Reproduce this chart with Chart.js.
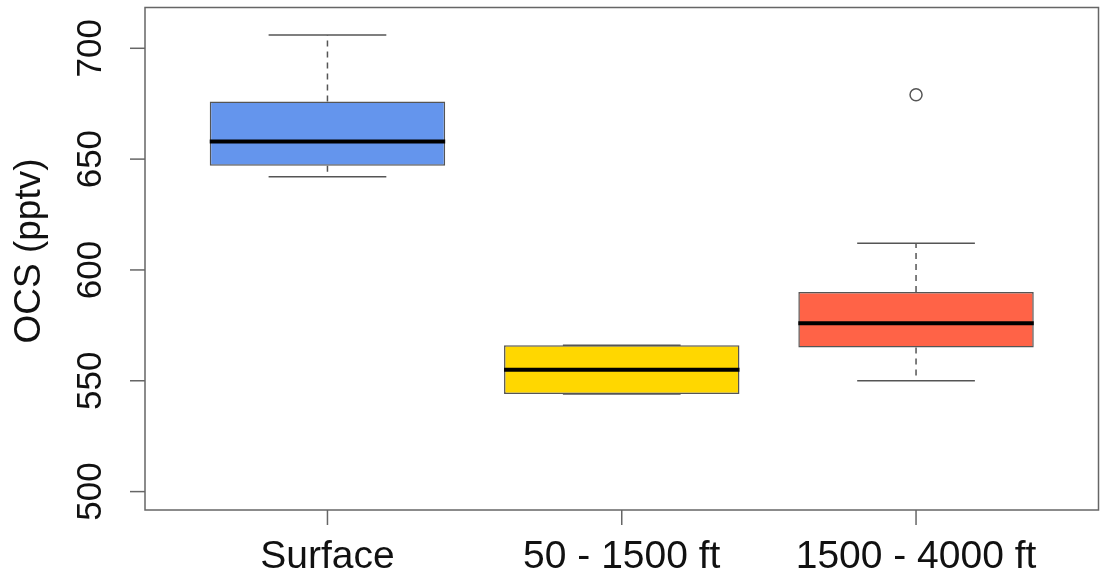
<!DOCTYPE html>
<html>
<head>
<meta charset="utf-8">
<title>OCS by altitude</title>
<script src="https://cdn.jsdelivr.net/npm/chart.js@4.4.1/dist/chart.umd.min.js"></script>
<style>
  body { margin: 0; background: #fff; }
  #wrap { width: 1106px; height: 579px; }
</style>
</head>
<body>
<div id="wrap"><canvas id="chart"></canvas></div>
<script>
// Box plot values (pptv)
const categories = ["Surface", "50 - 1500 ft", "1500 - 4000 ft"];
const lowerWhisker = [642, 544, 550];
const q1 = [647, 544, 565];
const median = [658, 555, 576];
const q3 = [676, 566, 590];
const upperWhisker = [706, 566, 612];
const outliers = [[], [], [679]];
const yTicks = [500, 550, 600, 650, 700];
const boxColors = ["#6495ED", "#FFD700", "#FF6347"];

const FONT = '"Liberation Sans", Arial, sans-serif';
const AXIS_COLOR = "#666";

// Build the floating bars (q1..q3) and outlier points from the arrays
const boxData = categories.map((c, i) => ({ x: i + 1, y: [q1[i], q3[i]] }));
const outlierData = [];
outliers.forEach((list, i) => list.forEach(v => outlierData.push({ x: i + 1, y: v })));

// Whiskers, staples, medians, box frame and R-style axes
const boxplotExtras = {
  id: "boxplotExtras",
  afterDatasetsDraw(chart) {
    const ctx = chart.ctx;
    const xs = chart.scales.x;
    const ys = chart.scales.y;
    const unit = xs.getPixelForValue(2) - xs.getPixelForValue(1);
    const halfBox = unit * 0.8 / 2;
    const halfStaple = halfBox / 2;

    ctx.save();
    categories.forEach((c, i) => {
      const cx = xs.getPixelForValue(i + 1);
      const yLo = ys.getPixelForValue(lowerWhisker[i]);
      const yHi = ys.getPixelForValue(upperWhisker[i]);
      const yQ1 = ys.getPixelForValue(q1[i]);
      const yQ3 = ys.getPixelForValue(q3[i]);

      // dashed whiskers
      ctx.strokeStyle = "#555";
      ctx.lineWidth = 1.5;
      ctx.setLineDash([6, 5]);
      ctx.beginPath();
      ctx.moveTo(cx, yQ3); ctx.lineTo(cx, yHi);
      ctx.moveTo(cx, yQ1); ctx.lineTo(cx, yLo);
      ctx.stroke();

      // staples
      ctx.setLineDash([]);
      ctx.beginPath();
      ctx.moveTo(cx - halfStaple, yHi); ctx.lineTo(cx + halfStaple, yHi);
      ctx.moveTo(cx - halfStaple, yLo); ctx.lineTo(cx + halfStaple, yLo);
      ctx.stroke();

      // median
      const yMed = ys.getPixelForValue(median[i]);
      ctx.strokeStyle = "#000";
      ctx.lineWidth = 4;
      ctx.beginPath();
      ctx.moveTo(cx - halfBox, yMed); ctx.lineTo(cx + halfBox, yMed);
      ctx.stroke();
    });
    ctx.restore();
  },
  afterDraw(chart) {
    const ctx = chart.ctx;
    const area = chart.chartArea;
    const xs = chart.scales.x;
    const ys = chart.scales.y;

    ctx.save();
    // plot frame
    ctx.strokeStyle = AXIS_COLOR;
    ctx.lineWidth = 1.5;
    ctx.strokeRect(area.left, area.top, area.right - area.left, area.bottom - area.top);

    // y ticks and rotated labels
    ctx.fillStyle = "#111";
    ctx.font = "35px " + FONT;
    yTicks.forEach(v => {
      const y = ys.getPixelForValue(v);
      ctx.beginPath();
      ctx.moveTo(area.left - 15, y); ctx.lineTo(area.left, y);
      ctx.stroke();
      ctx.save();
      ctx.translate(91.5, y);
      ctx.rotate(-Math.PI / 2);
      ctx.textAlign = "center";
      ctx.textBaseline = "middle";
      ctx.fillText(String(v), 0, 0);
      ctx.restore();
    });

    // x ticks and category labels
    ctx.font = "39px " + FONT;
    ctx.textAlign = "center";
    ctx.textBaseline = "alphabetic";
    categories.forEach((c, i) => {
      const x = xs.getPixelForValue(i + 1);
      ctx.beginPath();
      ctx.moveTo(x, area.bottom); ctx.lineTo(x, area.bottom + 15);
      ctx.stroke();
      ctx.fillText(c, x, 568);
    });

    // y axis title
    ctx.font = "37px " + FONT;
    ctx.translate(39.5, 251);
    ctx.rotate(-Math.PI / 2);
    ctx.textAlign = "center";
    ctx.fillText("OCS (pptv)", 0, 0);
    ctx.restore();
  }
};

const chart = new Chart(document.getElementById("chart"), {
  type: "bar",
  data: {
    datasets: [
      {
        type: "bar",
        data: boxData,
        backgroundColor: boxColors,
        borderColor: "#555",
        borderWidth: 1.5,
        borderSkipped: false,
        categoryPercentage: 0.8,
        barPercentage: 1.0
      },
      {
        type: "scatter",
        data: outlierData,
        pointStyle: "circle",
        pointRadius: 6,
        pointBackgroundColor: "#fff",
        pointBorderColor: "#555",
        pointBorderWidth: 1.5
      }
    ]
  },
  options: {
    responsive: true,
    maintainAspectRatio: false,
    animation: false,
    devicePixelRatio: 1,
    layout: { padding: { left: 145, right: 7, top: 5, bottom: 69 } },
    plugins: { legend: { display: false }, tooltip: { enabled: false } },
    scales: {
      x: {
        type: "linear", min: 0.38, max: 3.62, offset: false, display: false,
        // one tick per group so the bar width follows the group spacing
        afterBuildTicks: scale => { scale.ticks = categories.map((c, i) => ({ value: i + 1 })); }
      },
      y: { type: "linear", min: 491.7, max: 718.4, display: false }
    }
  },
  plugins: [boxplotExtras]
});
</script>
</body>
</html>
